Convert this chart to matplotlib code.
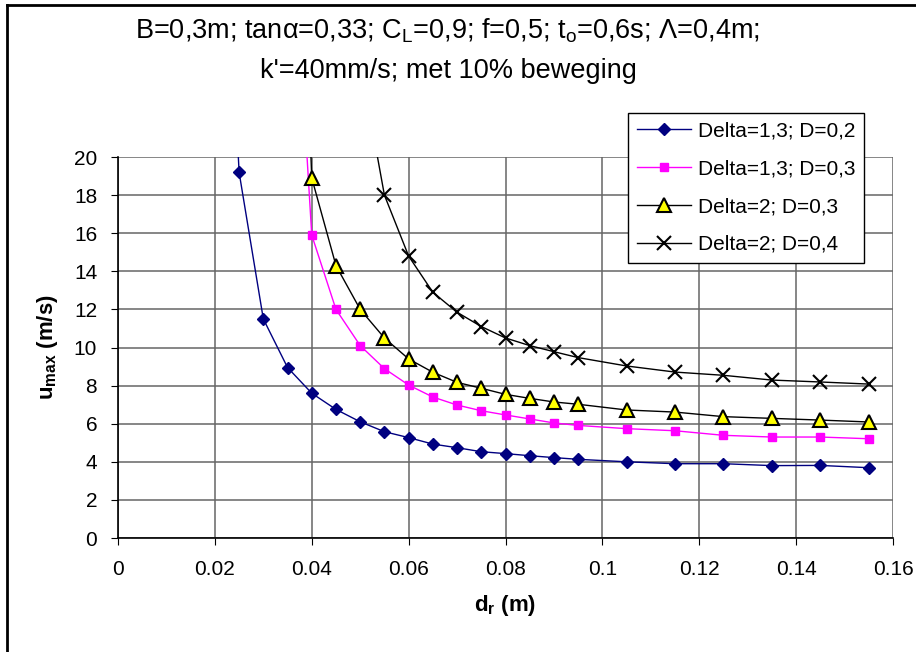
import matplotlib
matplotlib.use('Agg')
from matplotlib import pyplot as plt
from matplotlib.lines import Line2D

plt.rcParams['font.family'] = ['Liberation Sans', 'DejaVu Sans']
plt.rcParams['mathtext.fontset'] = 'custom'
plt.rcParams['mathtext.rm'] = 'Liberation Sans'
plt.rcParams['mathtext.bf'] = 'Liberation Sans:bold'

# d_r (m) for each series
x_a = [0.02, 0.025, 0.03, 0.035, 0.04, 0.045, 0.05, 0.055, 0.06, 0.065, 0.07, 0.075,
       0.08, 0.085, 0.09, 0.095, 0.105, 0.115, 0.125, 0.135, 0.145, 0.155]
y_a = [45, 19.2, 11.5, 8.95, 7.6, 6.75, 6.1, 5.58, 5.27, 4.93, 4.74, 4.53,
       4.43, 4.32, 4.22, 4.13, 4.0, 3.9, 3.9, 3.8, 3.81, 3.69]

x_b = [0.035, 0.04, 0.045, 0.05, 0.055, 0.06, 0.065, 0.07, 0.075, 0.08, 0.085,
       0.09, 0.095, 0.105, 0.115, 0.125, 0.135, 0.145, 0.155]
y_b = [37, 15.9, 12.0, 10.1, 8.89, 8.03, 7.4, 6.98, 6.68, 6.46, 6.25,
       6.04, 5.91, 5.74, 5.63, 5.39, 5.3, 5.3, 5.21]

x_c = [0.035, 0.04, 0.045, 0.05, 0.055, 0.06, 0.065, 0.07, 0.075, 0.08, 0.085,
       0.09, 0.095, 0.105, 0.115, 0.125, 0.135, 0.145, 0.155]
y_c = [53, 18.9, 14.3, 12.0, 10.5, 9.4, 8.7, 8.17, 7.86, 7.54, 7.33,
       7.14, 7.02, 6.72, 6.61, 6.37, 6.28, 6.19, 6.09]

x_d = [0.05, 0.055, 0.06, 0.065, 0.07, 0.075, 0.08, 0.085, 0.09, 0.095,
       0.105, 0.115, 0.125, 0.135, 0.145, 0.155]
y_d = [25, 18.0, 14.8, 12.9, 11.85, 11.1, 10.5, 10.1, 9.78, 9.47,
       9.03, 8.71, 8.54, 8.29, 8.19, 8.08]

labels = ['Delta=1,3; D=0,2', 'Delta=1,3; D=0,3', 'Delta=2; D=0,3', 'Delta=2; D=0,4']

fig = plt.figure(figsize=(9.16, 6.52), dpi=100)
ax = fig.add_axes([118/916, 1-538/652, (893-118)/916, (538-157)/652])

# chart area border (left and top visible)
fig.add_artist(Line2D([7/916, 7/916], [0, 1-5/652], transform=fig.transFigure, color='black', lw=2))
fig.add_artist(Line2D([7/916, 1], [1-5/652, 1-5/652], transform=fig.transFigure, color='black', lw=2))

ax.plot(x_a, y_a, color='#000080', lw=1, marker='D', ms=6, label=labels[0])
ax.plot(x_b, y_b, color='#FF00FF', lw=1, marker='s', ms=6, label=labels[1])
ax.plot(x_c, y_c, color='black', lw=1, marker='^', ms=10, mfc='#FFFF00', mec='black', mew=1.5, label=labels[2])
ax.plot(x_d, y_d, color='black', lw=1, marker='x', ms=10, mew=1.5, label=labels[3])

ax.set_xlim(0, 0.16)
ax.set_ylim(0, 20)
ax.set_xticks([0, 0.02, 0.04, 0.06, 0.08, 0.1, 0.12, 0.14, 0.16])
ax.set_xticklabels(['0', '0.02', '0.04', '0.06', '0.08', '0.1', '0.12', '0.14', '0.16'])
ax.set_yticks(range(0, 21, 2))
ax.grid(True, color='#666666', lw=1.1)
ax.set_axisbelow(True)
for s in ['top', 'right']:
    ax.spines[s].set_visible(False)
for s in ['left', 'bottom']:
    ax.spines[s].set_linewidth(1.2)
ax.tick_params(axis='x', labelsize=15, direction='out', length=5, pad=11)
ax.tick_params(axis='y', labelsize=15, direction='out', length=5, pad=10)

ax.set_xlabel(r'$\mathbf{d_r}$ $\mathbf{(m)}$', fontsize=16, labelpad=10)
ax.set_ylabel(r'$\mathbf{u_{max}}$ $\mathbf{(m/s)}$', fontsize=16, labelpad=10)

fig.text(448/916, 1-31/652, 'B=0,3m; tanα=0,33; C$_\\mathregular{L}$=0,9; f=0,5; t$_\\mathregular{o}$=0,6s; Λ=0,4m;',
         ha='center', va='center', fontsize=19.5)
fig.text(448/916, 1-71/652, "k'=40mm/s; met 10% beweging", ha='center', va='center', fontsize=19.5)

leg = ax.legend(loc='upper left', bbox_to_anchor=(628/916, 1-113/652), bbox_transform=fig.transFigure,
                fontsize=15, frameon=True, fancybox=False, edgecolor='black', framealpha=1,
                handlelength=2.6, borderpad=0.42, labelspacing=0.9, handletextpad=0.35,
                borderaxespad=0)
leg.get_frame().set_linewidth(1)

fig.savefig('out.png', dpi=100)
